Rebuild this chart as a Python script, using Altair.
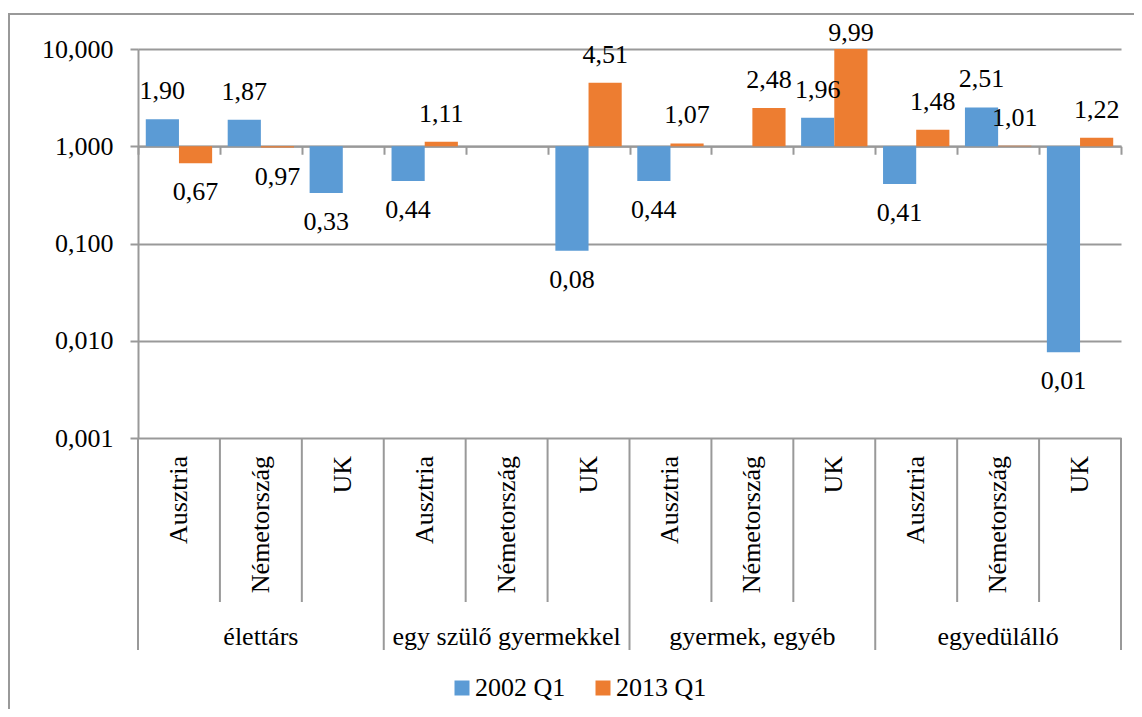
import altair as alt
import pandas as pd

groups = ["élettárs", "egy szülő gyermekkel", "gyermek, egyéb", "egyedülálló"]
countries = ["Ausztria", "Németország", "UK"]
series = ["2002 Q1", "2013 Q1"]
v2002 = [1.90, 1.87, 0.33, 0.44, None, 0.084, 0.44, None, 1.96, 0.41, 2.51, 0.0076]
v2013 = [0.67, 0.97, None, 1.11, None, 4.51, 1.07, 2.48, 9.99, 1.48, 1.01, 1.22]
colors = ["#5B9BD5", "#ED7D31"]
y_ticks = [0.001, 0.01, 0.1, 1, 10]

rows, keys, key_country = [], [], []
for gi, g in enumerate(groups):
    for ci, c in enumerate(countries):
        i = gi * 3 + ci
        key = f"{g}|{c}"
        keys.append(key)
        key_country.append(c)
        for s, vals in zip(series, [v2002, v2013]):
            if vals[i] is not None:
                rows.append({"key": key, "series": s, "value": vals[i]})
bars_df = pd.DataFrame(rows)
cats_df = pd.DataFrame({"key": keys, "country": key_country})
bounds_df = pd.DataFrame({"b": list(range(len(keys) + 1))})
groups_df = pd.DataFrame({"group": groups, "gi": list(range(len(groups)))})
one_df = pd.DataFrame({"a": [0]})

W, H = 983, 389
GRAY = "#999999"
FONT = "Liberation Serif, Times New Roman, serif"
FS = 26
N = len(keys)

yscale = alt.Scale(type="log", domain=[0.001, 10], nice=False)

def yaxis():
    return alt.Axis(values=y_ticks, labelExpr="replace(format(datum.value, '.3f'), '.', ',')",
                    labelFont=FONT, labelFontSize=FS, labelColor="black", labelPadding=17,
                    tickSize=8, tickColor=GRAY, tickWidth=2, domainColor=GRAY, domainWidth=2,
                    grid=True, gridColor=GRAY, gridWidth=2, title=None)

def xband():
    return alt.X("key:N", scale=alt.Scale(domain=keys, paddingInner=0.19, paddingOuter=0.095), axis=None)

def xoff():
    return alt.XOffset("series:N", scale=alt.Scale(domain=series, paddingInner=0, paddingOuter=0))

qscale = alt.Scale(domain=[0, N], nice=False, zero=False)

bars = alt.Chart(bars_df).mark_bar().encode(
    x=xband(), xOffset=xoff(),
    y=alt.Y("value:Q", scale=yscale, axis=yaxis(), stack=None),
    y2=alt.datum(1),
    color=alt.Color("series:N", scale=alt.Scale(domain=series, range=colors),
                    legend=alt.Legend(orient="none", legendX=311, legendY=626, direction="horizontal",
                                      title=None, symbolType="square", symbolSize=225,
                                      symbolStrokeWidth=0, labelFontSize=FS, labelFont=FONT,
                                      labelColor="black", labelOffset=0, columnPadding=24,
                                      padding=0)),
)

lab_expr = "replace(format(datum.value, '.2f'), '.', ',')"
labels_up = alt.Chart(bars_df).transform_filter("datum.value >= 1").transform_calculate(
    lab=lab_expr, ylab="min(datum.value, 7.5)"
).mark_text(dy=-28, fontSize=FS, font=FONT, baseline="middle", color="black").encode(
    x=xband(), xOffset=xoff(),
    y=alt.Y("ylab:Q", scale=yscale, axis=yaxis()), text="lab:N")

labels_dn = alt.Chart(bars_df).transform_filter("datum.value < 1").transform_calculate(
    lab=lab_expr
).mark_text(dy=29, fontSize=FS, font=FONT, baseline="middle", color="black").encode(
    x=xband(), xOffset=xoff(),
    y=alt.Y("value:Q", scale=yscale, axis=yaxis()), text="lab:N")

country_labels = alt.Chart(cats_df).mark_text(
    angle=270, align="right", baseline="middle", fontSize=FS, font=FONT, color="black"
).encode(x=xband(), y=alt.value(H + 18), text="country:N")

div_inner = alt.Chart(bounds_df).transform_filter("datum.b % 3 != 0").mark_rule(
    color=GRAY, strokeWidth=2
).encode(
    x=alt.X("b:Q", scale=qscale,
            axis=alt.Axis(orient="bottom", offset=-(H - H / 4), values=list(range(N + 1)),
                          labels=False, grid=False, tickSize=8, tickColor=GRAY, tickWidth=2,
                          domain=True, domainColor=GRAY, domainWidth=2, title=None)),
    y=alt.value(H), y2=alt.value(H + 164))

div_group = alt.Chart(bounds_df).transform_filter("datum.b % 3 == 0").mark_rule(
    color=GRAY, strokeWidth=2
).encode(x=alt.X("b:Q", scale=qscale, axis=None), y=alt.value(H), y2=alt.value(H + 212))

group_labels = alt.Chart(groups_df).transform_calculate(gx="datum.gi * 3 + 1.5").mark_text(
    fontSize=FS, font=FONT, baseline="middle", color="black"
).encode(x=alt.X("gx:Q", scale=qscale, axis=None), y=alt.value(588), text="group:N")

frame_left = alt.Chart(one_df).mark_rule(color=GRAY, strokeWidth=2).encode(
    x=alt.value(-129), y=alt.value(-35), y2=alt.value(700))
frame_top = alt.Chart(one_df).mark_rule(color=GRAY, strokeWidth=2).encode(
    x=alt.value(-130), x2=alt.value(1000), y=alt.value(-35))

chart = alt.layer(
    bars, labels_up, labels_dn, country_labels, div_inner, div_group, group_labels,
    frame_left, frame_top
).resolve_scale(x="independent").properties(
    width=W, height=H,
    autosize=alt.AutoSizeParams(type="none"),
    padding={"left": 130, "top": 41, "right": 13, "bottom": 271},
).configure_view(stroke=None)

chart.save("out.html", embed_options={"renderer": "svg", "actions": False})
